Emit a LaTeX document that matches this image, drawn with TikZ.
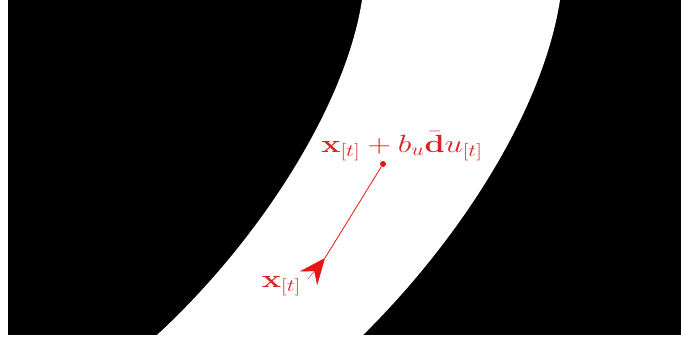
\documentclass[tikz,border=0pt]{standalone}
\usepackage{graphicx}
\usetikzlibrary{arrows.meta,calc}
\definecolor{lblred}{RGB}{215,35,35}
\definecolor{arrred}{RGB}{235,20,20}
\begin{document}
\begin{tikzpicture}[x=1pt,y=-1pt,
  lbl/.style={text=lblred,font=\fontsize{24}{28}\selectfont,inner sep=0pt,anchor=base}]
\useasboundingbox (0,0) rectangle (681,341);
\fill[white] (0,0) rectangle (681,341);
\begin{scope}
\clip (8,0) rectangle (681,335);
\fill[black] (8,0) rectangle (681,335);
\fill[white] (364,-10) -- (362,0) .. controls (346,105) and (260,240) .. (157,335) -- (150,342)
  -- (355,345) -- (360,338) .. controls (460,240) and (543,110) .. (560,0) -- (562,-10) -- cycle;
\end{scope}
\node[circle,fill=arrred,inner sep=0pt,minimum size=6pt] (dot) at (383,164) {};
\coordinate (tip) at (325,258);
\coordinate (back) at (308,279);
\draw[arrred,line width=0.8pt] (dot) -- (tip);
\draw[arrred,-{Stealth[length=26pt,width=22pt,inset=9pt]}] (back) -- (tip);
\node[lbl] (lab) at (402,152) {\scalebox{1.3}[1]{$\mathbf{x}_{[t]} + b_u\bar{\mathbf{d}}u_{[t]}$}};
\node[lbl] (labx) at (281.5,287) {\scalebox{1.3}[1]{$\mathbf{x}_{[t]}$}};
\end{tikzpicture}
\end{document}
